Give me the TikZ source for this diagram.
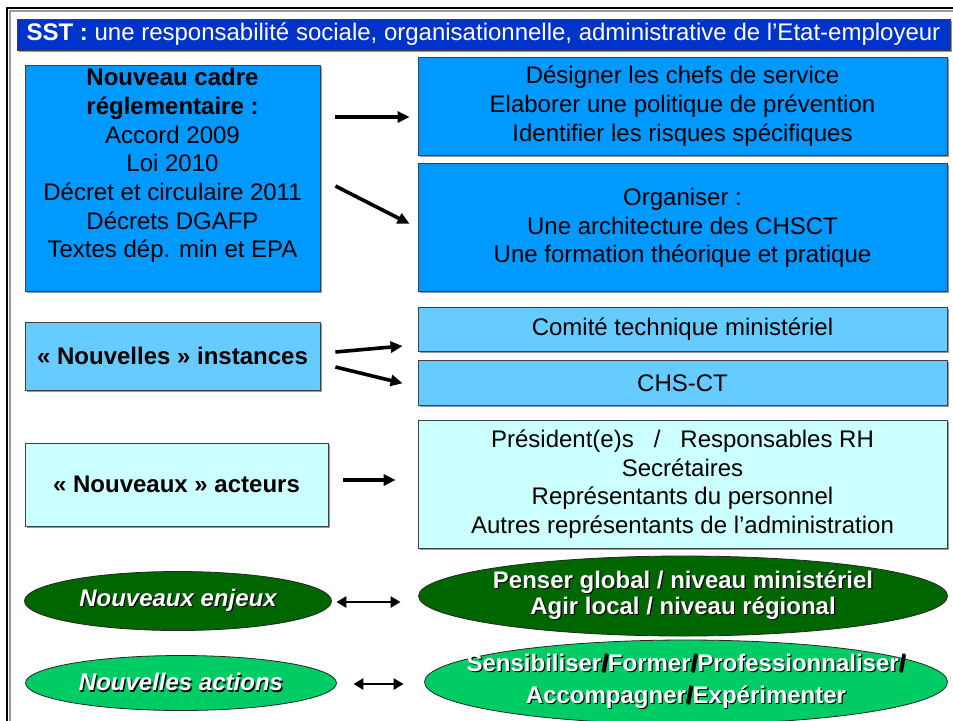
\documentclass[tikz,border=0pt]{standalone}
\usepackage{fontspec}
\setmainfont{Liberation Sans}
\usetikzlibrary{arrows.meta,positioning,shapes,shadows}
\definecolor{titleblue}{HTML}{0033CC}
\definecolor{deepblue}{HTML}{0099FF}
\definecolor{midblue}{HTML}{66CCFF}
\definecolor{paleblue}{HTML}{CCFFFF}
\definecolor{darkgreen}{HTML}{006600}
\definecolor{lightgreen}{HTML}{00CC66}
% white text with a small black shadow, zero width so the oval keeps its size
\newcommand{\shd}[1]{\makebox[0pt]{\makebox[0pt][l]{\hspace{0.6pt}\raisebox{-0.6pt}{\color{black}#1}}#1}}
\newcommand{\lowpad}[1]{\rule[-#1]{0pt}{0pt}}

\begin{document}
\begin{tikzpicture}[
    x=0.5pt, y=-0.5pt,
    node distance=4pt,
    box/.style={rectangle, draw=black!75, fill=#1, align=center, inner sep=0pt,
      font=\fontsize{12}{14.35}\selectfont,
      drop shadow={shadow xshift=0.8pt, shadow yshift=-0.8pt, fill=black!40, opacity=1}},
    leftbox/.style={box=#1, minimum width=147.5pt},
    rightbox/.style={box=#1, minimum width=264.5pt},
    oval/.style={ellipse, draw=black!85, fill=#1, inner sep=0pt, text=white, align=center},
    arrow/.style={-{Triangle[length=6pt,width=5.5pt]}, line width=1.8pt},
    twoway/.style={{Triangle[length=5pt,width=5.5pt]}-{Triangle[length=5pt,width=5.5pt]}, line width=1.4pt}
  ]

    \useasboundingbox (0,0) rectangle (953,720);
    \draw[black!40, line width=0.7pt] (10,740) |- (970,11);
    \draw[line width=1.1pt] (7,740) |- (970,8);

    \node[box=titleblue, minimum width=466.5pt, minimum height=15.5pt, text=white,
      font=\fontsize{12}{13}\selectfont] (title) at (483.5,34.5)
      {\textbf{SST :} une responsabilité sociale, organisationnelle, administrative de l’Etat-employeur};

    \node[leftbox=deepblue, minimum height=113pt] (cadre) at (172.5,178)
      {\textbf{Nouveau cadre}\\\textbf{réglementaire :}\\Accord 2009\\Loi 2010\\Décret et circulaire 2011\\Décrets DGAFP\\Textes dép. min et EPA\lowpad{15pt}};

    \node[rightbox=deepblue, minimum height=49pt] (designer) at (682.5,106)
      {Désigner les chefs de service\\Elaborer une politique de prévention\\Identifier les risques spécifiques};
    \node[rightbox=deepblue, minimum height=64pt, below=of designer] (organiser)
      {Organiser :\\Une architecture des CHSCT\\Une formation théorique et pratique};

    \node[leftbox=midblue, minimum height=34pt] (instances) at (172.5,356)
      {\textbf{« Nouvelles » instances}};
    \node[rightbox=midblue, minimum height=22pt] (ctm) at (682.5,329)
      {Comité technique ministériel};
    \node[rightbox=midblue, minimum height=22.5pt, below=4.5pt of ctm] (chsct)
      {CHS-CT};

    \node[box=paleblue, minimum width=151.5pt, minimum height=41.5pt] (acteurs) at (176.5,484.5)
      {\textbf{« Nouveaux » acteurs}};
    \node[rightbox=paleblue, minimum height=64pt] (roles) at (682.5,484)
      {Président(e)s~~~/~~~Responsables RH\\Secrétaires\\Représentants du personnel\\Autres représentants de l’administration};

    \node[oval=darkgreen, minimum width=153.5pt, minimum height=29.5pt,
      font=\bfseries\itshape\fontsize{12}{13}\selectfont] (enjeux) at (178,601)
      {\shd{Nouveaux enjeux}};
    \node[oval=darkgreen, minimum width=264.5pt, minimum height=40pt,
      font=\bfseries\fontsize{12}{13}\selectfont] (penser) at (683,596)
      {\shd{Penser global / niveau ministériel}\\\shd{Agir local / niveau régional}};

    \node[oval=lightgreen, minimum width=155.5pt, minimum height=27.5pt,
      font=\bfseries\itshape\fontsize{12}{13}\selectfont] (actions) at (181,683)
      {\shd{Nouvelles actions}};
    \node[oval=lightgreen, minimum width=261.5pt, minimum height=42pt,
      font=\bfseries\fontsize{12}{16}\selectfont] (sensib) at (686,682)
      {\shd{Sensibiliser{\color{black}/}Former{\color{black}/}Professionnaliser{\color{black}/}}\\\shd{Accompagner{\color{black}/}Expérimenter}};

    % arrows float in the gap between the two columns
    \draw[arrow] ([xshift=7.5pt,yshift=30.5pt]cadre.east) -- ([xshift=-4pt,yshift=-5.5pt]designer.west);
    \draw[arrow] ([xshift=7.5pt,yshift=-4pt]cadre.east) -- ([xshift=-4pt,yshift=2pt]organiser.west);

    \draw[arrow] ([xshift=7.5pt,yshift=2pt]instances.east) -- ([xshift=-7.5pt,yshift=-8.5pt]ctm.west);
    \draw[arrow] ([xshift=7.5pt,yshift=-5.5pt]instances.east) -- ([xshift=-7.5pt]chsct.west);

    \draw[arrow] ([xshift=7.5pt,yshift=2.25pt]acteurs.east) -- ([xshift=-11pt,yshift=2pt]roles.west);

    \draw[twoway] ([xshift=2.25pt,yshift=-0.5pt]enjeux.east) -- ([xshift=-8.75pt,yshift=-3pt]penser.west);
    \draw[twoway] ([xshift=8.25pt,yshift=-0.5pt]actions.east) -- ([xshift=-10.25pt,yshift=-1pt]sensib.west);

  \end{tikzpicture}
\end{document}
